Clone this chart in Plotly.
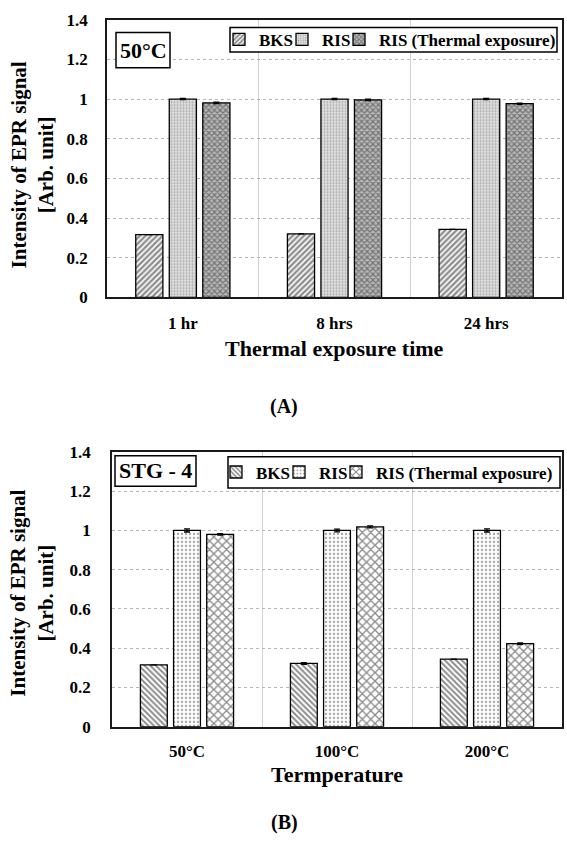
import plotly.graph_objects as go

# ---------------- data ----------------
categories_a = ["1 hr", "8 hrs", "24 hrs"]
bks_a = [0.317, 0.320, 0.343]
ris_a = [1.0, 1.0, 1.0]
rist_a = [0.981, 0.996, 0.977]
bks_a_err = [0.0, 0.0, 0.0]
ris_a_err = [0.003, 0.003, 0.003]
rist_a_err = [0.004, 0.004, 0.003]

categories_b = ["50°C", "100°C", "200°C"]
bks_b = [0.315, 0.322, 0.344]
ris_b = [1.0, 1.0, 1.0]
rist_b = [0.980, 1.018, 0.423]
bks_b_err = [0.0, 0.004, 0.0]
ris_b_err = [0.008, 0.007, 0.008]
rist_b_err = [0.004, 0.005, 0.004]

series_names = ["BKS", "RIS", "RIS (Thermal exposure)"]
y_ticks = [0, 0.2, 0.4, 0.6, 0.8, 1.0, 1.2, 1.4]
y_ticktext = ["0", "0.2", "0.4", "0.6", "0.8", "1", "1.2", "1.4"]

# ---------------- helpers ----------------
W, H = 567, 853
FONT = "Liberation Serif"


def px(x):
    return x / W


def py(y):
    return 1 - y / H


def bfont(size, color="black"):
    return dict(family=FONT, size=size, color=color, weight="bold")


fig = go.Figure()

err_style = dict(type="data", color="black", thickness=1.3, width=3, visible=True)

patterns_a = [
    dict(shape="/", size=4, solidity=0.6, fgcolor="#1e1e1e", bgcolor="#ffffff", fillmode="overlay"),
    dict(shape=".", size=3, solidity=0.45, fgcolor="#7a7a7a", bgcolor="#e6e6e6", fillmode="overlay"),
    dict(shape="x", size=4, solidity=0.5, fgcolor="#2e2e2e", bgcolor="#b8b8b8", fillmode="overlay"),
]
patterns_b = [
    dict(shape="\\", size=4, solidity=0.5, fgcolor="#1a1a1a", bgcolor="#ffffff", fillmode="overlay"),
    dict(shape=".", size=4, solidity=0.3, fgcolor="#555555", bgcolor="#ffffff", fillmode="overlay"),
    dict(shape="x", size=6, solidity=0.4, fgcolor="#1a1a1a", bgcolor="#ffffff", fillmode="overlay"),
]

vals_a = [bks_a, ris_a, rist_a]
errs_a = [bks_a_err, ris_a_err, rist_a_err]
vals_b = [bks_b, ris_b, rist_b]
errs_b = [bks_b_err, ris_b_err, rist_b_err]

for i in range(3):
    fig.add_trace(go.Bar(
        x=categories_a, y=vals_a[i], name=series_names[i],
        xaxis="x", yaxis="y",
        marker=dict(color="white", pattern=patterns_a[i],
                    line=dict(color="black", width=1.3)),
        error_y=dict(array=errs_a[i], **err_style),
        legend="legend" if i == 0 else f"legend{i + 1}",
    ))
for i in range(3):
    fig.add_trace(go.Bar(
        x=categories_b, y=vals_b[i], name=series_names[i],
        xaxis="x2", yaxis="y2",
        marker=dict(color="white", pattern=patterns_b[i],
                    line=dict(color="black", width=1.3)),
        error_y=dict(array=errs_b[i], **err_style),
        legend=f"legend{i + 4}",
    ))

# plot-area geometry (pixels)
A = dict(x0=107, x1=562, y0=11, y1=295)
B = dict(x0=112, x1=562, y0=453, y1=734)


def xaxis_cfg(g, standoff):
    return dict(
        domain=[px(g["x0"]), px(g["x1"])], type="category",
        tickson="boundaries", ticks="", showgrid=True,
        gridcolor="#d2d2d2", gridwidth=1,
        showline=True, mirror=True, linecolor="#1a1a1a", linewidth=1.5,
        tickfont=bfont(17), ticklabelstandoff=standoff, fixedrange=True,
        zeroline=False,
    )


def yaxis_cfg(g, standoff):
    return dict(
        domain=[py(g["y1"]), py(g["y0"])], range=[0, 1.4],
        tickvals=y_ticks, ticktext=y_ticktext,
        showgrid=True, gridcolor="#b5b5b5", griddash="dot", gridwidth=1,
        showline=True, mirror=True, linecolor="#1a1a1a", linewidth=1.5,
        ticks="", tickfont=bfont(17), ticklabelstandoff=standoff,
        zeroline=False, fixedrange=True,
    )


leg_common = dict(orientation="h", bgcolor="rgba(0,0,0,0)", borderwidth=0,
                  font=bfont(17), xanchor="left", yanchor="middle",
                  traceorder="normal")

legA_y = py(31.5)
legB_y = py(474)

fig.update_layout(
    width=W, height=H, autosize=False,
    margin=dict(l=0, r=0, t=0, b=0),
    paper_bgcolor="white", plot_bgcolor="white",
    barmode="group", bargap=0.337, bargroupgap=0.19,
    showlegend=True,
    xaxis=dict(anchor="y", **xaxis_cfg(A, 9)),
    yaxis=dict(anchor="x", **yaxis_cfg(A, 14)),
    xaxis2=dict(anchor="y2", **xaxis_cfg(B, 8)),
    yaxis2=dict(anchor="x2", **yaxis_cfg(B, 16)),
    legend=dict(x=px(219), y=legA_y, **leg_common),
    legend2=dict(x=px(282), y=legA_y, **leg_common),
    legend3=dict(x=px(339), y=legA_y, **leg_common),
    legend4=dict(x=px(216), y=legB_y, **leg_common),
    legend5=dict(x=px(279), y=legB_y, **leg_common),
    legend6=dict(x=px(336), y=legB_y, **leg_common),
)

shapes = [
    # legend frames
    dict(type="rect", xref="paper", yref="paper", x0=px(230), x1=px(557), y0=py(19), y1=py(44),
         line=dict(color="black", width=1.5), fillcolor="white", layer="above"),
    dict(type="rect", xref="paper", yref="paper", x0=px(228), x1=px(560), y0=py(458), y1=py(490),
         line=dict(color="black", width=1.5), fillcolor="white", layer="above"),
    # label boxes
    dict(type="rect", xref="paper", yref="paper", x0=px(116), x1=px(170), y0=py(24), y1=py(60),
         line=dict(color="black", width=1.5), fillcolor="white", layer="above"),
    dict(type="rect", xref="paper", yref="paper", x0=px(115), x1=px(196), y0=py(457), y1=py(488),
         line=dict(color="black", width=1.5), fillcolor="white", layer="above"),
]

ann = []


def text(x, y, s, size, angle=0):
    ann.append(dict(xref="paper", yref="paper", x=px(x), y=py(y), text=s, showarrow=False,
                    xanchor="center", yanchor="middle", font=bfont(size), textangle=angle))


text(143, 42, "50°C", 22)
text(155.5, 472.5, "STG - 4", 22)
ytitle = "Intensity of EPR signal<br>[Arb. unit]"
text(32, 160, ytitle, 21, -90)
text(32, 598, ytitle, 21, -90)
text(334.5, 347, "Thermal exposure time", 22)
text(337, 783, "Termperature", 22)
text(284, 407, "(A)", 20)
text(284, 832, "(B)", 20)

fig.update_layout(shapes=shapes, annotations=ann)

fig.write_html("out.html")
